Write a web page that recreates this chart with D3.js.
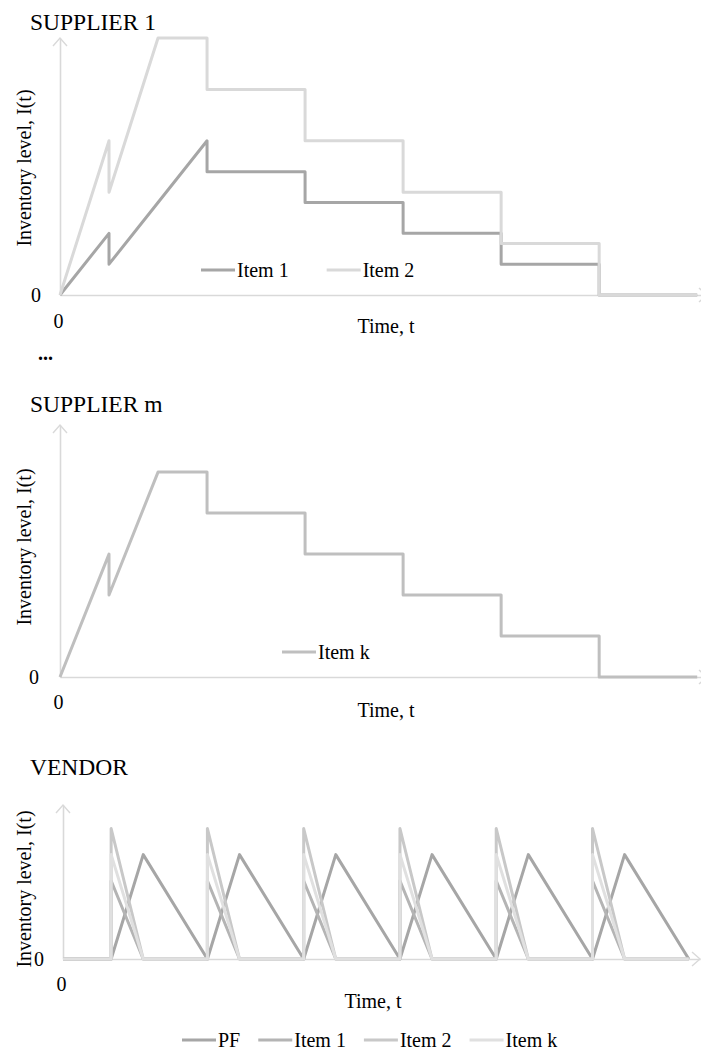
<!DOCTYPE html>
<html>
<head>
<meta charset="utf-8">
<script src="https://cdn.jsdelivr.net/npm/d3@7"></script>
<style>
  body { margin: 0; background: #fff; }
  svg, svg text { font-family: "Liberation Serif", "DejaVu Serif", serif !important; }
</style>
</head>
<body>
<svg id="chart" width="701" height="1055" font-family="Liberation Serif, serif"></svg>
<script>
// SUPPLIER 1
const s1Time  = [0, 1, 1, 2, 3, 3, 5, 5, 7, 7, 9, 9, 11, 11, 13];
const s1Item1 = [0, 1.2, 0.6, 1.8, 3, 2.4, 2.4, 1.8, 1.8, 1.2, 1.2, 0.6, 0.6, 0, 0];
const s1Item2 = [0, 3, 2, 5, 5, 4, 4, 3, 3, 2, 2, 1, 1, 0, 0];

// SUPPLIER m
const smTime  = [0, 1, 1, 2, 3, 3, 5, 5, 7, 7, 9, 9, 11, 11, 13];
const smItemK = [0, 3, 2, 5, 5, 4, 4, 3, 3, 2, 2, 1, 1, 0, 0];

// VENDOR
const vPFTime   = [0, 3, 5, 9, 11, 15, 17, 21, 23, 27, 29, 33, 35, 39];
const vPF       = [0, 0, 4, 0, 4, 0, 4, 0, 4, 0, 4, 0, 4, 0];
const vItemTime = [0, 3, 3, 5, 9, 9, 11, 15, 15, 17, 21, 21, 23, 27, 27, 29, 33, 33, 35, 39];
const vItem1    = [0, 0, 3, 0, 0, 3, 0, 0, 3, 0, 0, 3, 0, 0, 3, 0, 0, 3, 0, 0];
const vItem2    = [0, 0, 5, 0, 0, 5, 0, 0, 5, 0, 0, 5, 0, 0, 5, 0, 0, 5, 0, 0];
const vItemK    = [0, 0, 4, 0, 0, 4, 0, 0, 4, 0, 0, 4, 0, 0, 4, 0, 0, 4, 0, 0];

const xTicks = [0];
const yTicks = [0];
const xTitle = "Time, t";
const yTitle = "Inventory level, I(t)";

const FONT = "'Liberation Serif', 'DejaVu Serif', serif";
const axisColor = "#d9d9d9";
const svg = d3.select("#chart");

function label(x, y, str, size) {
  return svg.append("text")
    .attr("x", x).attr("y", y)
    .attr("font-family", FONT)
    .attr("font-size", size)
    .attr("fill", "#000")
    .text(str);
}

function drawPanel(p) {
  const x = d3.scaleLinear().domain([0, p.xMax]).range([p.left, p.right]);
  const y = d3.scaleLinear().domain([0, p.yMax]).range([p.bottom, p.top]);

  label(30, p.titleY, p.title, 23.5);

  // axes: domain line plus the single "0" tick label
  const gx = svg.append("g")
    .attr("transform", `translate(0,${p.bottom})`)
    .call(d3.axisBottom(x).tickValues(xTicks).tickSize(0).tickSizeOuter(0).tickPadding(p.xPad).tickFormat(d3.format("d")));
  gx.attr("font-size", 20).attr("font-family", FONT);
  gx.select(".domain").attr("stroke", axisColor).attr("stroke-width", 1.6);
  gx.selectAll(".tick text").attr("fill", "#000").attr("dx", -2);

  const gy = svg.append("g")
    .attr("transform", `translate(${p.left},0)`)
    .call(d3.axisLeft(y).tickValues(yTicks).tickSize(0).tickSizeOuter(0).tickPadding(p.yPad).tickFormat(d3.format("d")));
  gy.attr("font-size", 20).attr("font-family", FONT);
  gy.select(".domain").attr("stroke", axisColor).attr("stroke-width", 1.6);
  gy.selectAll(".tick text").attr("fill", "#000");

  // arrow heads
  const ax = x(p.xMax), ay = y(p.yMax);
  svg.append("path")
    .attr("d", `M${ax - 8},${p.bottom - 7}L${ax},${p.bottom}L${ax - 8},${p.bottom + 7}`)
    .attr("fill", "none").attr("stroke", axisColor).attr("stroke-width", 1.4);
  svg.append("path")
    .attr("d", `M${p.left - 7},${ay + 8}L${p.left},${ay}L${p.left + 7},${ay + 8}`)
    .attr("fill", "none").attr("stroke", axisColor).attr("stroke-width", 1.4);

  // axis titles
  label(0, 0, yTitle, 20)
    .attr("transform", `translate(31,${p.yTitleY}) rotate(-90)`)
    .attr("text-anchor", "middle");
  label(p.xTitleX, p.xTitleY, xTitle, 20)
    .attr("text-anchor", "middle");

  // series
  p.series.forEach(s => {
    const line = d3.line()
      .x((d, i) => x(s.time[i]))
      .y(d => y(d));
    svg.append("path")
      .datum(s.values)
      .attr("fill", "none")
      .attr("stroke", s.color)
      .attr("stroke-width", 3)
      .attr("stroke-linejoin", "round")
      .attr("d", line);
  });

  // legend
  let lx = p.legendX;
  p.series.forEach(s => {
    svg.append("line")
      .attr("x1", lx).attr("x2", lx + 34)
      .attr("y1", p.legendY).attr("y2", p.legendY)
      .attr("stroke", s.color).attr("stroke-width", 3);
    const t = label(lx + 36, p.legendY + 7, s.name, 20);
    lx += 36 + t.node().getComputedTextLength() + p.legendGap;
  });
}

drawPanel({
  title: "SUPPLIER 1", titleY: 30,
  left: 60, right: 707, top: 38, bottom: 295,
  xMax: 13.2, yMax: 5,
  xPad: 19, yPad: 19,
  xTitleX: 386, xTitleY: 333, yTitleY: 168,
  legendX: 201, legendY: 270, legendGap: 38,
  series: [
    { name: "Item 1", time: s1Time, values: s1Item1, color: "#a6a6a6" },
    { name: "Item 2", time: s1Time, values: s1Item2, color: "#d9d9d9" }
  ]
});

label(38, 360, "...", 20).attr("font-weight", "bold");

drawPanel({
  title: "SUPPLIER m", titleY: 412,
  left: 60, right: 707, top: 425, bottom: 677,
  xMax: 13.2, yMax: 6.15,
  xPad: 18, yPad: 21,
  xTitleX: 386, xTitleY: 717, yTitleY: 547,
  legendX: 282, legendY: 652, legendGap: 30,
  series: [
    { name: "Item k", time: smTime, values: smItemK, color: "#bfbfbf" }
  ]
});

drawPanel({
  title: "VENDOR", titleY: 775,
  left: 63, right: 700, top: 805, bottom: 959,
  xMax: 39.7, yMax: 5.9,
  xPad: 18, yPad: 19,
  xTitleX: 373, xTitleY: 1008, yTitleY: 889,
  legendX: 182, legendY: 1040, legendGap: 18,
  series: [
    { name: "PF",     time: vPFTime,   values: vPF,    color: "#a6a6a6" },
    { name: "Item 1", time: vItemTime, values: vItem1, color: "#b4b4b4" },
    { name: "Item 2", time: vItemTime, values: vItem2, color: "#c8c8c8" },
    { name: "Item k", time: vItemTime, values: vItemK, color: "#e0e0e0" }
  ]
});
</script>
</body>
</html>
